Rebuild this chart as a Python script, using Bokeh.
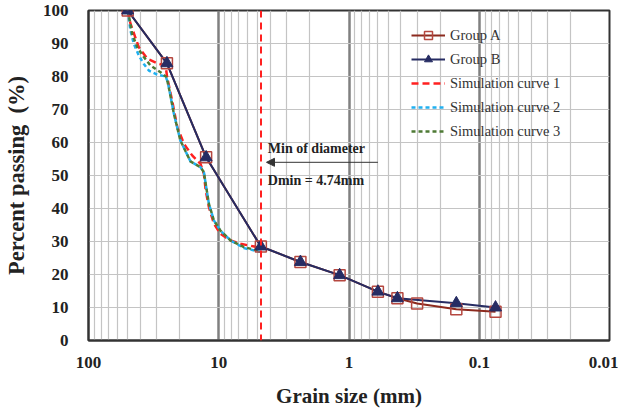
from bokeh.plotting import figure
from bokeh.models import (Range1d, FixedTicker, CustomJSTickFormatter, Legend, LegendItem,
                          Span, Label, Arrow, NormalHead)
from bokeh.embed import file_html
from bokeh.resources import INLINE

# ---------------- data ----------------
size_A = [50, 25, 12.5, 4.75, 2.36, 1.18, 0.6, 0.425, 0.3, 0.15, 0.075]
pass_A = [100, 84, 55.5, 28.5, 23.8, 19.8, 14.8, 12.8, 11.2, 9.5, 8.7]

size_B = [50, 25, 12.5, 4.75, 2.36, 1.18, 0.6, 0.425, 0.15, 0.075]
pass_B = [100, 84, 55.5, 28.5, 23.8, 19.8, 14.8, 12.8, 11.3, 10.0]

sim1_size = [50, 47.6, 41.1, 35.4, 28.8, 25.6, 24.9, 22.8, 20.8, 18.5, 16.0, 13.8, 13.0,
             12.6, 11.9, 10.9, 9.7, 8.1, 6.8, 5.07, 4.75]
sim1_pass = [100, 96, 88.9, 85.4, 83.8, 83.3, 79.8, 72.7, 64.6, 59.6, 56.1, 53.5, 50.5,
             45.5, 40.4, 35.4, 32.3, 30.3, 29.3, 28.3, 28.0]

sim2_size = [50, 47.6, 44.9, 41.1, 37.6, 34.4, 29.7, 25.6, 24.6, 22.1, 19.7, 16.5, 13.8,
             13.0, 12.6, 11.9, 10.9, 9.7, 8.1, 6.4, 4.75]
sim2_pass = [100, 93.9, 89.9, 86.4, 83.8, 81.8, 80.6, 80.0, 78.3, 68.7, 60.6, 54.3, 52.5,
             51.0, 47.5, 41.4, 36.4, 33.3, 30.3, 28.0, 26.8]

sim3_size = [50, 48.2, 46.2, 42.3, 37.6, 33.4, 28.0, 25.2, 24.2, 22.1, 19.7, 16.5, 13.8,
             13.0, 12.6, 11.9, 10.9, 9.7, 8.1, 6.4, 4.75]
sim3_pass = [100, 97, 92.9, 88.9, 85.9, 83.3, 81.3, 79.8, 76.8, 68.7, 60.6, 54.3, 52.5,
             51.0, 47.5, 41.4, 36.4, 33.3, 30.3, 28.3, 27.0]

dmin = 4.74
x_ticks = [100, 10, 1, 0.1, 0.01]
y_ticks = [0, 10, 20, 30, 40, 50, 60, 70, 80, 90, 100]
legend_labels = ["Group A", "Group B", "Simulation curve 1", "Simulation curve 2", "Simulation curve 3"]

# ---------------- figure ----------------
SERIF = "Liberation Serif"
p = figure(width=618, height=412, x_axis_type="log",
           x_range=Range1d(100, 0.01), y_range=Range1d(0, 100),
           output_backend="svg", toolbar_location=None,
           min_border_left=88, min_border_right=9, min_border_top=10, min_border_bottom=72)
p.background_fill_color = "white"
p.border_fill_color = "white"
p.outline_line_color = "#333333"
p.outline_line_width = 2

minor = [k * 10.0 ** e for e in range(-2, 2) for k in range(2, 10)]
p.xaxis.ticker = FixedTicker(ticks=x_ticks, minor_ticks=minor)
p.xaxis.formatter = CustomJSTickFormatter(code="return String(tick);")
p.yaxis.ticker = FixedTicker(ticks=y_ticks)

for ax in (p.xaxis, p.yaxis):
    ax.major_tick_line_color = None
    ax.minor_tick_line_color = None
    ax.axis_line_color = "#333333"
    ax.axis_line_width = 2
    ax.major_label_text_font = SERIF
    ax.major_label_text_font_style = "bold"
    ax.major_label_text_font_size = "17px"
    ax.major_label_text_color = "#222222"
    ax.axis_label_text_font = SERIF
    ax.axis_label_text_font_style = "bold"
    ax.axis_label_text_color = "#222222"

p.xaxis.axis_label = "Grain size (mm)"
p.yaxis.axis_label = "Percent passing\u00a0\u00a0(%)"
p.xaxis.axis_label_text_font_size = "21px"
p.yaxis.axis_label_text_font_size = "22.5px"
p.xaxis.major_label_standoff = 10
p.xaxis.axis_label_standoff = 13
p.yaxis.major_label_standoff = 14
p.yaxis.axis_label_standoff = 11

p.xgrid.grid_line_color = "#808080"
p.xgrid.grid_line_width = 2.5
p.xgrid.minor_grid_line_color = "#C4C4C4"
p.xgrid.minor_grid_line_width = 1.2
p.ygrid.grid_line_color = "#C4C4C4"
p.ygrid.grid_line_width = 1.2

# simulation curves
r_s1 = p.line(sim1_size, sim1_pass, line_color="#FF2020", line_width=2.5, line_dash="7 4")
r_s2 = p.line(sim2_size, sim2_pass, line_color="#20B0F0", line_width=2.5, line_dash="4 3")
r_s3 = p.line(sim3_size, sim3_pass, line_color="#4E7A35", line_width=2.5, line_dash="4 3")

# groups
r_a_line = p.line(size_A, pass_A, line_color="#8C2A1E", line_width=2)
r_b_line = p.line(size_B, pass_B, line_color="#262C63", line_width=2)
r_a_pts = p.scatter(size_A, pass_A, marker="square", size=11, fill_color=None,
                    line_color="#B5473F", line_width=1.5)
r_b_pts = p.scatter(size_B, pass_B, marker="triangle", size=12, fill_color="#262C63",
                    line_color="#262C63", line_width=1)

# Dmin line
p.add_layout(Span(location=dmin, dimension="height", line_color="#FF2020",
                  line_width=2, line_dash="7 5"))

# annotation
p.add_layout(Arrow(end=NormalHead(size=8, fill_color="#333333", line_color="#333333", line_width=1),
                   x_start=0.6, y_start=54, x_end=4.3, y_end=54,
                   line_color="#333333", line_width=1))
p.add_layout(Label(x=4.2, y=58.2, text="Min of diameter", text_font=SERIF,
                   text_font_style="bold", text_font_size="14px", text_color="#222222",
                   text_baseline="middle"))
p.add_layout(Label(x=4.2, y=48.5, text="Dmin = " + str(dmin) + "mm", text_font=SERIF,
                   text_font_style="bold", text_font_size="14px", text_color="#222222",
                   text_baseline="middle"))

legend = Legend(items=[
    LegendItem(label=legend_labels[0], renderers=[r_a_line, r_a_pts]),
    LegendItem(label=legend_labels[1], renderers=[r_b_line, r_b_pts]),
    LegendItem(label=legend_labels[2], renderers=[r_s1]),
    LegendItem(label=legend_labels[3], renderers=[r_s2]),
    LegendItem(label=legend_labels[4], renderers=[r_s3]),
], location=(323, 199))
legend.background_fill_alpha = 0
legend.border_line_color = None
legend.padding = 5
legend.margin = 0
legend.spacing = 4
legend.glyph_width = 34
legend.glyph_height = 20
legend.label_height = 20
legend.label_standoff = 5
legend.label_text_font = SERIF
legend.label_text_font_size = "14.5px"
legend.label_text_color = "#333333"
p.add_layout(legend)

open("out.html", "w").write(file_html(p, INLINE))
